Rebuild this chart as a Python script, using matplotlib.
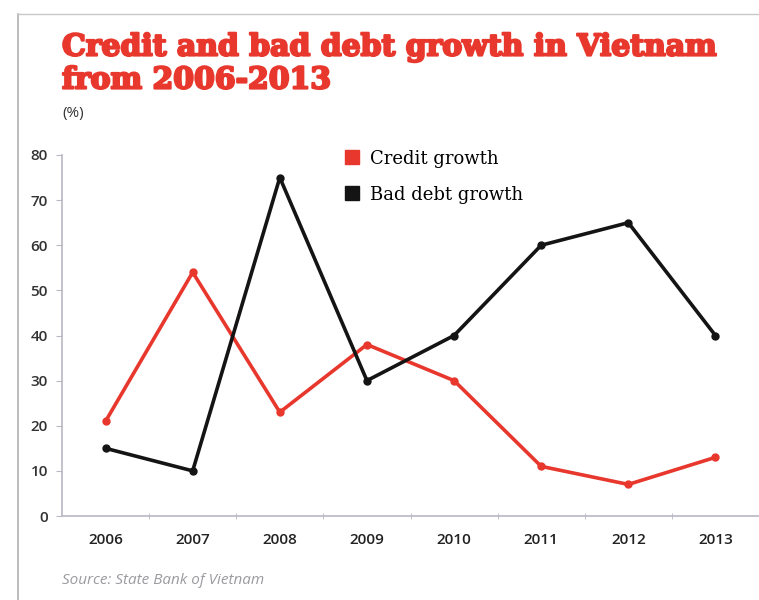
import numpy as np
import matplotlib.pyplot as plt
import matplotlib.patheffects as pe
from matplotlib.lines import Line2D

years = ['2006', '2007', '2008', '2009', '2010', '2011', '2012', '2013']
credit_growth = [21, 54, 23, 38, 30, 11, 7, 13]
bad_debt_growth = [15, 10, 75, 30, 40, 60, 65, 40]
yticks = [0, 10, 20, 30, 40, 50, 60, 70, 80]

red = '#e8372c'
black = '#141414'

fig = plt.figure(figsize=(7.59, 6.0), dpi=100)
ax = fig.add_axes([62/759, 84/600, 697/759, 361/600])

x = np.arange(len(years))
ax.plot(x, credit_growth, color=red, lw=2.6, marker='o', ms=5, zorder=3)
ax.plot(x, bad_debt_growth, color=black, lw=2.6, marker='o', ms=5, zorder=3)

ax.set_xlim(-0.5, len(years) - 0.5)
ax.set_ylim(0, 80)
ax.set_yticks(yticks)
ax.set_xticks(x)
ax.set_xticklabels(years)
ax.set_xticks(x[:-1] + 0.5, minor=True)

for s in ['top', 'right']:
    ax.spines[s].set_visible(False)
for s in ['left', 'bottom']:
    ax.spines[s].set_color('#b8b8c4')
    ax.spines[s].set_linewidth(1.2)
ax.spines['bottom'].set_clip_on(False)

ax.tick_params(axis='x', which='major', length=0, pad=12, labelsize=11, labelcolor='#222222')
ax.tick_params(axis='x', which='minor', length=4, direction='inout', color='#b8b8c4')
ax.tick_params(axis='y', length=4, direction='out', color='#b8b8c4', labelsize=11,
               labelcolor='#333333', pad=6)
for lab in ax.get_xticklabels() + ax.get_yticklabels():
    lab.set_family('Open Sans')
    lab.set_fontweight('semibold')

handles = [Line2D([], [], color=red, marker='s', ls='', ms=10),
           Line2D([], [], color=black, marker='s', ls='', ms=10)]
ax.legend(handles, ['Credit growth', 'Bad debt growth'], loc='upper left',
          bbox_to_anchor=(0.39, 1.04), frameon=False, handlelength=1.0,
          handletextpad=0.5, labelspacing=1.0, borderpad=0,
          prop={'family': 'DejaVu Serif', 'size': 13})

thick = [pe.Stroke(linewidth=1.6, foreground=red), pe.Normal()]
fig.text(62/759, 1 - 47/600, 'Credit and bad debt growth in Vietnam', color=red,
         family='DejaVu Serif', weight='bold', size=21.5, va='center', ha='left',
         path_effects=thick)
fig.text(62/759, 1 - 80/600, 'from 2006-2013', color=red,
         family='DejaVu Serif', weight='bold', size=21.5, va='center', ha='left',
         path_effects=thick)
fig.text(62/759, 1 - 114/600, '(%)', color='#333333', family='Open Sans',
         size=11, va='center', ha='left')
fig.text(62/759, 1 - 580/600, 'Source: State Bank of Vietnam', color='#9a9aa0',
         family='Open Sans', style='italic', size=11, va='center', ha='left')

# frame of the cut-out box
fig.add_artist(Line2D([18/759, 18/759], [0, 1 - 14/600], transform=fig.transFigure,
                      color='#b0b0b0', lw=1.2))
fig.add_artist(Line2D([18/759, 1], [1 - 14/600, 1 - 14/600], transform=fig.transFigure,
                      color='#c8c8c8', lw=1.0))

fig.savefig('out.png', dpi=100)
